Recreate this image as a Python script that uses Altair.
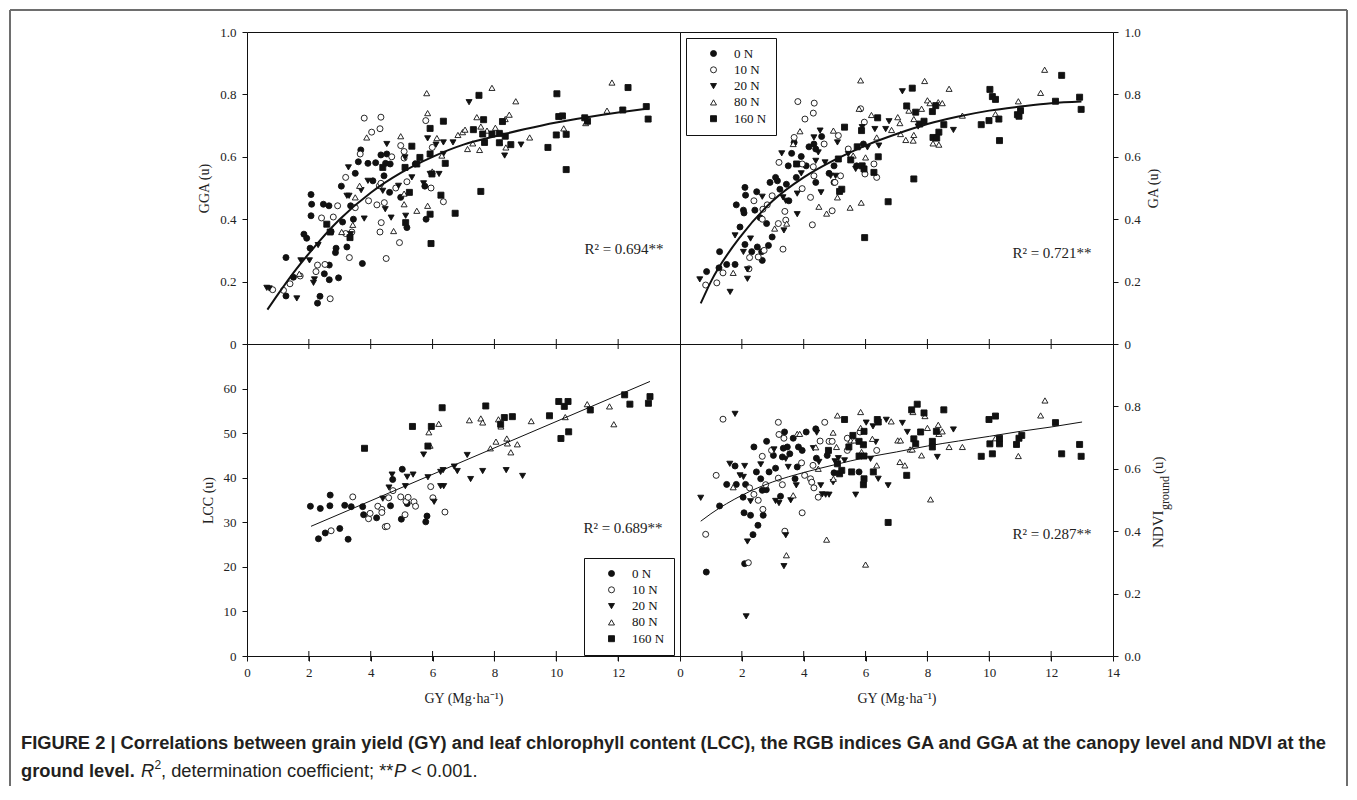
import altair as alt
import pandas as pd

GROUPS = ["0 N", "10 N", "20 N", "80 N", "160 N"]
SHAPES = ["circle", "circle", "triangle-down", "triangle-up", "square"]
FILLS = ["#111111", "#ffffff", "#111111", "#ffffff", "#111111"]
STROKES = ["#111111"] * 5
SIZES = [36, 36, 44, 44, 34]

X_TICKS = [2, 4, 6, 8, 10, 12]

# ---------------- GGA (top-left) ----------------
GGA_0N_X = [1.26,1.26,1.50,1.84,1.93,2.04,2.07,2.09,2.07,2.28,2.36,2.47,2.50,2.65,2.66,2.66,2.72,2.86,2.88,2.96,3.05,3.09,3.23,3.35,3.50,3.44,3.60,3.68,3.73,3.91,4.07,4.16,4.33,4.43,4.48,4.52,4.61,4.63,4.97,5.17,5.75,5.79,5.44]
GGA_0N_Y = [0.277,0.154,0.214,0.352,0.339,0.307,0.479,0.448,0.411,0.131,0.153,0.448,0.225,0.443,0.253,0.206,0.360,0.293,0.307,0.212,0.506,0.391,0.311,0.443,0.547,0.400,0.584,0.622,0.258,0.579,0.523,0.581,0.606,0.539,0.579,0.609,0.486,0.577,0.470,0.373,0.506,0.400,0.577]
GGA_10N_X = [0.83,1.18,1.39,1.72,2.23,2.28,2.41,2.52,2.69,2.79,2.93,3.19,3.19,3.31,3.39,3.50,3.66,3.79,3.93,4.03,4.20,4.30,4.33,4.28,4.33,4.34,4.30,4.44,4.50,4.68,4.81,4.93,4.97,5.08,5.08,5.17,5.78,5.95,5.99,6.35]
GGA_10N_Y = [0.174,0.172,0.193,0.218,0.232,0.253,0.404,0.255,0.145,0.407,0.443,0.534,0.354,0.277,0.359,0.437,0.609,0.724,0.459,0.679,0.446,0.690,0.727,0.507,0.515,0.389,0.359,0.453,0.274,0.600,0.500,0.325,0.636,0.617,0.596,0.520,0.716,0.500,0.630,0.456]
GGA_20N_X = [0.64,0.72,1.61,1.74,2.02,2.15,2.18,2.30,3.28,3.23,3.30,3.35,3.69,3.79,3.91,4.39,4.47,4.52,4.66,4.90,5.11,5.13,5.33,5.71,5.84,5.92,6.11,6.21,6.35,6.35,6.66,7.18,8.33,8.86]
GGA_20N_Y = [0.180,0.178,0.146,0.268,0.268,0.196,0.207,0.317,0.566,0.475,0.475,0.352,0.493,0.402,0.523,0.491,0.432,0.641,0.405,0.507,0.598,0.411,0.534,0.515,0.659,0.545,0.639,0.545,0.609,0.646,0.646,0.775,0.604,0.639]
GGA_80N_X = [1.69,3.06,3.42,3.50,3.64,3.87,4.74,4.97,5.08,5.08,5.49,5.81,5.84,5.84,5.99,6.14,6.30,6.82,6.97,7.05,7.13,7.30,7.43,7.52,7.56,7.76,7.92,8.03,8.17,8.35,8.37,8.48,8.69,9.14,10.24,10.95,11.64,11.80]
GGA_80N_Y = [0.225,0.359,0.382,0.470,0.507,0.662,0.362,0.666,0.448,0.482,0.427,0.804,0.740,0.443,0.553,0.660,0.604,0.670,0.679,0.687,0.625,0.643,0.727,0.622,0.697,0.684,0.821,0.693,0.646,0.721,0.630,0.735,0.778,0.662,0.691,0.708,0.748,0.838]
GGA_160N_X = [2.58,2.69,3.33,4.39,5.11,5.13,5.25,5.33,5.49,5.59,5.92,5.92,5.92,5.95,5.98,6.35,6.27,6.41,6.73,7.32,7.50,7.56,7.65,7.62,7.68,7.92,8.16,8.16,8.26,8.35,8.53,9.73,10.00,10.02,10.08,10.20,10.32,10.32,10.92,11.01,12.15,12.32,12.91,12.97]
GGA_160N_Y = [0.384,0.359,0.341,0.566,0.566,0.389,0.486,0.634,0.577,0.598,0.691,0.609,0.416,0.322,0.545,0.714,0.477,0.579,0.419,0.687,0.797,0.489,0.719,0.673,0.646,0.673,0.675,0.645,0.713,0.666,0.639,0.630,0.670,0.802,0.729,0.731,0.672,0.559,0.725,0.714,0.750,0.822,0.761,0.721]
GGA_FIT_X = [0.66,1,1.5,2,3,4,5,6,7,8,9,10,11,12,12.97]
GGA_FIT_Y = [0.110,0.159,0.228,0.290,0.400,0.485,0.550,0.600,0.639,0.665,0.689,0.710,0.727,0.742,0.755]

# ---------------- GA (top-right) ----------------
GA_0N_X = [0.86,1.26,1.28,1.51,1.78,1.82,1.94,2.05,2.07,2.10,2.12,2.10,2.32,2.42,2.48,2.50,2.59,2.64,2.66,2.80,2.86,2.91,2.98,3.09,3.15,3.23,3.44,3.50,3.52,3.61,3.69,3.76,3.92,4.08,4.17,4.33,4.39,4.39,4.58,4.82,4.98,4.98,5.71,5.93]
GA_0N_Y = [0.232,0.244,0.296,0.255,0.255,0.446,0.375,0.429,0.420,0.502,0.477,0.319,0.296,0.429,0.488,0.311,0.405,0.296,0.268,0.386,0.316,0.518,0.343,0.534,0.523,0.496,0.512,0.571,0.459,0.611,0.646,0.534,0.601,0.571,0.632,0.641,0.625,0.518,0.665,0.547,0.571,0.518,0.571,0.641]
GA_10N_X = [0.83,1.19,1.39,2.23,2.25,2.39,2.53,2.66,2.68,2.72,2.82,2.98,3.18,3.20,3.33,3.39,3.42,3.69,3.81,3.95,3.95,4.04,4.22,4.28,4.31,4.34,4.31,4.33,4.66,4.92,5.01,5.12,5.19,5.44,5.84,5.98,5.96,6.27,6.36]
GA_10N_Y = [0.189,0.196,0.228,0.241,0.277,0.459,0.279,0.400,0.432,0.300,0.446,0.475,0.386,0.582,0.304,0.425,0.397,0.662,0.777,0.577,0.498,0.721,0.470,0.382,0.740,0.772,0.568,0.539,0.641,0.427,0.518,0.668,0.539,0.625,0.754,0.545,0.711,0.577,0.534]
GA_20N_X = [0.64,1.62,1.78,2.05,2.18,2.18,2.28,2.66,3.29,3.33,3.36,3.42,3.79,3.79,3.92,4.33,4.39,4.47,4.53,4.56,4.69,4.87,5.03,5.09,5.44,5.68,5.89,6.06,6.30,6.43,6.65,6.76,7.19,7.70,8.84]
GA_20N_Y = [0.207,0.167,0.348,0.295,0.209,0.239,0.338,0.472,0.611,0.470,0.364,0.459,0.482,0.416,0.547,0.662,0.587,0.614,0.684,0.486,0.582,0.539,0.539,0.646,0.609,0.561,0.695,0.630,0.689,0.636,0.689,0.714,0.810,0.697,0.686]
GA_80N_X = [1.72,3.06,3.45,3.66,3.88,4.49,4.74,4.96,5.09,5.50,5.60,5.84,5.79,5.86,6.00,6.19,6.36,6.84,7.04,7.13,7.11,7.30,7.40,7.54,7.56,7.56,7.81,7.91,8.00,8.08,8.18,8.35,8.48,8.37,8.70,9.13,10.20,10.94,11.66,11.79]
GA_80N_Y = [0.228,0.370,0.386,0.641,0.682,0.440,0.418,0.684,0.470,0.437,0.604,0.845,0.754,0.453,0.598,0.734,0.662,0.686,0.727,0.673,0.708,0.654,0.748,0.652,0.670,0.721,0.754,0.843,0.781,0.772,0.643,0.775,0.772,0.639,0.818,0.732,0.737,0.778,0.805,0.879]
GA_160N_X = [3.77,5.12,5.23,5.16,5.32,5.52,5.73,5.87,5.89,5.95,5.97,6.27,6.39,6.41,6.73,7.33,7.51,7.56,7.62,7.75,7.89,8.16,8.18,8.27,8.37,8.30,8.53,9.74,9.99,10.02,10.10,10.20,10.31,10.33,10.91,10.96,11.01,12.14,12.34,12.92,12.97]
GA_160N_Y = [0.577,0.593,0.496,0.489,0.695,0.590,0.632,0.684,0.571,0.561,0.341,0.550,0.725,0.600,0.456,0.763,0.820,0.529,0.743,0.705,0.714,0.745,0.662,0.764,0.679,0.660,0.703,0.703,0.716,0.816,0.793,0.784,0.721,0.652,0.735,0.730,0.748,0.778,0.861,0.791,0.752]
GA_FIT_X = [0.67,1,2,3,4,5,6,7,8,9,10,11,12,12.98]
GA_FIT_Y = [0.130,0.200,0.350,0.459,0.534,0.590,0.636,0.673,0.705,0.729,0.748,0.761,0.772,0.777]

# ---------------- LCC (bottom-left) ----------------
LCC_0N_X = [2.05,2.31,2.37,2.53,2.68,2.69,3.00,3.16,3.27,3.37,3.74,3.77,4.19,4.64,4.71,4.99,5.02,5.18,5.78,5.82]
LCC_0N_Y = [33.6,26.3,33.1,27.6,33.7,36.1,28.6,33.8,26.2,33.5,33.5,31.7,31.0,33.7,39.6,30.7,41.9,34.2,30.1,31.4]
LCC_10N_X = [2.72,3.42,3.93,3.98,4.23,4.36,4.36,4.47,4.53,4.58,4.72,4.97,5.11,5.14,5.21,5.40,5.45,5.94,6.01,6.40]
LCC_10N_Y = [28.1,35.7,30.8,32.0,33.6,32.9,32.2,29.0,29.1,35.5,37.1,35.7,31.7,34.7,35.6,34.6,33.6,38.0,35.5,32.3]
LCC_20N_X = [4.39,4.59,4.69,5.12,5.18,5.37,5.71,5.85,6.05,6.26,6.34,6.26,6.36,6.70,6.80,7.12,7.23,7.62,8.38,8.91]
LCC_20N_Y = [35.3,37.8,40.7,38.1,40.2,40.7,45.2,40.1,34.6,41.3,41.7,38.1,38.1,42.5,41.5,45.1,39.7,41.5,41.7,40.4]
LCC_80N_X = [5.88,5.92,6.20,7.19,7.56,7.62,7.87,8.05,8.13,8.21,8.40,8.42,8.53,8.74,9.19,10.29,11.00,11.72,11.86]
LCC_80N_Y = [50.2,47.2,52.1,52.9,53.3,52.4,46.6,48.1,53.1,51.5,48.8,47.7,45.7,47.5,52.7,53.6,56.5,56.0,52.0]
LCC_160N_X = [3.80,5.35,5.85,5.96,6.31,7.72,8.20,8.32,8.58,9.78,10.08,10.15,10.26,10.38,10.40,11.10,12.21,12.38,12.98,13.03]
LCC_160N_Y = [46.6,51.5,47.1,51.5,55.7,56.1,52.0,53.5,53.7,53.9,57.1,48.8,56.0,57.1,50.3,55.2,58.6,56.5,56.7,58.2]
LCC_FIT_X = [2.07, 13.03]
LCC_FIT_Y = [29.1, 61.6]

# ---------------- NDVI ground (bottom-right) ----------------
ND_0N_X = [0.85,1.28,1.51,1.78,1.82,2.04,2.07,2.09,2.12,2.28,2.39,2.36,2.47,2.52,2.61,2.66,2.69,2.79,2.80,2.88,3.02,3.09,3.25,3.31,3.34,3.38,3.47,3.55,3.66,3.72,3.79,3.83,3.95,4.08,4.39,4.41,4.76,4.98,5.79]
ND_0N_Y = [0.269,0.481,0.550,0.609,0.550,0.509,0.459,0.296,0.550,0.451,0.670,0.389,0.590,0.419,0.568,0.531,0.451,0.533,0.688,0.590,0.643,0.602,0.512,0.638,0.666,0.718,0.670,0.648,0.698,0.568,0.606,0.670,0.659,0.718,0.728,0.634,0.643,0.587,0.590]
ND_10N_X = [0.83,1.17,1.39,2.21,2.25,2.39,2.53,2.66,2.68,2.77,2.96,3.18,3.20,3.18,3.31,3.36,3.39,3.93,3.95,4.03,4.22,4.26,4.30,4.33,4.47,4.53,4.68,4.82,4.92,5.41,5.41,5.82,6.36]
ND_10N_Y = [0.390,0.579,0.759,0.299,0.539,0.518,0.499,0.640,0.470,0.549,0.659,0.749,0.710,0.570,0.549,0.698,0.400,0.619,0.459,0.579,0.568,0.557,0.611,0.539,0.509,0.689,0.749,0.688,0.688,0.698,0.659,0.718,0.659]
ND_20N_X = [0.67,1.61,1.78,1.94,2.05,2.09,2.18,2.14,2.28,2.61,3.04,3.09,3.20,3.42,3.42,3.36,3.50,3.58,3.76,4.31,4.42,4.49,4.55,4.60,4.71,4.82,4.95,5.01,5.12,5.32,5.68,6.02,6.16,6.33,6.24,6.41,6.73,6.67,7.19,7.35,8.32,8.84]
ND_20N_Y = [0.507,0.616,0.776,0.579,0.574,0.609,0.367,0.127,0.496,0.614,0.662,0.497,0.490,0.387,0.632,0.288,0.606,0.499,0.547,0.666,0.716,0.622,0.547,0.518,0.517,0.517,0.557,0.624,0.634,0.627,0.517,0.748,0.632,0.686,0.736,0.568,0.547,0.757,0.747,0.718,0.638,0.726]
ND_80N_X = [1.72,3.44,3.66,3.79,3.87,4.39,4.47,4.74,4.95,4.96,5.09,5.06,5.52,5.63,5.84,5.84,5.87,6.00,6.22,6.36,6.83,7.04,7.13,7.11,7.27,7.44,7.51,7.53,7.81,7.92,8.00,8.10,8.35,8.37,8.48,8.70,9.13,10.20,10.94,11.66,11.80]
ND_80N_Y = [0.541,0.323,0.515,0.712,0.712,0.669,0.600,0.373,0.716,0.568,0.771,0.670,0.691,0.691,0.782,0.731,0.654,0.293,0.696,0.611,0.752,0.691,0.691,0.622,0.611,0.662,0.662,0.782,0.643,0.769,0.731,0.502,0.741,0.712,0.720,0.670,0.670,0.698,0.641,0.771,0.819]
ND_160N_X = [4.80,5.09,5.16,5.23,5.32,5.46,5.55,5.59,5.79,5.93,5.93,5.95,5.95,5.79,5.95,6.25,6.38,6.41,6.73,7.33,7.49,7.67,7.56,7.62,7.78,7.89,8.16,8.16,8.29,8.53,9.74,9.99,10.02,10.10,10.20,10.33,10.33,10.88,10.96,11.05,12.14,12.34,12.92,12.97]
ND_160N_Y = [0.659,0.616,0.584,0.595,0.758,0.670,0.590,0.707,0.688,0.677,0.549,0.568,0.720,0.641,0.641,0.590,0.758,0.750,0.428,0.579,0.789,0.807,0.696,0.680,0.718,0.779,0.688,0.670,0.720,0.789,0.640,0.758,0.680,0.648,0.769,0.680,0.698,0.678,0.698,0.707,0.748,0.648,0.678,0.640]
ND_FIT_X = [0.67,1,2,3,4,5,6,7,8,9,10,11,12,13.0]
ND_FIT_Y = [0.432,0.456,0.515,0.558,0.588,0.613,0.636,0.654,0.673,0.689,0.704,0.720,0.734,0.750]

SERIF = "Liberation Serif"
SANS = "Liberation Sans"
INK = "#111111"
TXT = "#222222"
W, H = 433, 312

one = pd.DataFrame({"a": [0]})


def points_frame(series):
    rows = []
    for g, (xs, ys) in zip(GROUPS, series):
        for x, y in zip(xs, ys):
            rows.append({"GY": x, "val": y, "N": g})
    return pd.DataFrame(rows)


def label(text, x, y, font=SERIF, size=15, weight="normal", style="normal",
          angle=0, align="left", color=TXT):
    kw = dict(text=text, font=font, fontSize=size, fontWeight=weight, fontStyle=style,
              align=align, baseline="middle", color=color)
    if angle:
        kw["angle"] = angle
    return alt.Chart(one).mark_text(**kw).encode(x=alt.value(x), y=alt.value(y))


def panel(series, fit_x, fit_y, ydom, yvals, label_expr, orient, ytitle,
          bottom, xvals, r2, r2_xy, legend_xy, fit_w, extra=None):
    if bottom:
        xaxis = alt.Axis(values=xvals, format="d", ticks=True, tickSize=5,
                         labelPadding=5, title="GY (Mg·ha⁻¹)", titlePadding=12,
                         grid=False, domain=False, labelFlush=False)
    else:
        xaxis = alt.Axis(labels=False, ticks=False, domain=False, grid=False, title=None)
    xenc = alt.X("GY:Q", scale=alt.Scale(domain=[0, 14], nice=False, zero=False), axis=xaxis)
    yaxis_kw = dict(values=yvals, orient=orient, tickSize=5, labelPadding=6,
                    grid=False, domain=False, labelFlush=False,
                    title=ytitle if ytitle else None, titlePadding=8)
    if label_expr:
        yaxis_kw["labelExpr"] = label_expr
    if orient == "right":
        yaxis_kw["titleAngle"] = 270
        yaxis_kw["titlePadding"] = 20
    yenc = alt.Y("val:Q", scale=alt.Scale(domain=ydom, nice=False, zero=False),
                 axis=alt.Axis(**yaxis_kw))

    if legend_xy is not None:
        leg = alt.Legend(orient="none", legendX=legend_xy[0], legendY=legend_xy[1],
                         title=None, strokeColor=INK, padding=9, symbolOffset=12,
                         labelOffset=14, rowPadding=2.3, labelFont=SERIF,
                         labelFontSize=13, labelColor=INK, fillColor="white",
                         symbolStrokeWidth=0.9)
    else:
        leg = None

    pts = alt.Chart(points_frame(series)).mark_point(
        filled=True, strokeWidth=0.9, opacity=1
    ).encode(
        x=xenc, y=yenc,
        shape=alt.Shape("N:N", scale=alt.Scale(domain=GROUPS, range=SHAPES), legend=leg),
        fill=alt.Fill("N:N", scale=alt.Scale(domain=GROUPS, range=FILLS), legend=leg),
        stroke=alt.Stroke("N:N", scale=alt.Scale(domain=GROUPS, range=STROKES), legend=leg),
        size=alt.Size("N:N", scale=alt.Scale(domain=GROUPS, range=SIZES), legend=leg),
    )
    fit = alt.Chart(pd.DataFrame({"GY": fit_x, "val": fit_y})).mark_line(
        color=INK, strokeWidth=fit_w, interpolate="monotone"
    ).encode(x=xenc, y=yenc)
    ticks = alt.Chart(pd.DataFrame({"GY": X_TICKS})).mark_rule(
        color=INK, strokeWidth=1
    ).encode(x=xenc, y=alt.value(H - 5), y2=alt.value(H + 5))
    r2t = label(r2, r2_xy[0], r2_xy[1], size=15, align="center")
    layers = [pts, fit, ticks, r2t]
    if extra:
        layers += extra
    return alt.layer(*layers).properties(width=W, height=H)


FMT0 = "datum.value == 0 ? '0' : format(datum.value, '.1f')"
FMT1 = "format(datum.value, '.1f')"

p1 = panel([(GGA_0N_X, GGA_0N_Y), (GGA_10N_X, GGA_10N_Y), (GGA_20N_X, GGA_20N_Y),
            (GGA_80N_X, GGA_80N_Y), (GGA_160N_X, GGA_160N_Y)],
           GGA_FIT_X, GGA_FIT_Y, [0, 1], [0, 0.2, 0.4, 0.6, 0.8, 1.0], FMT0, "left",
           "GGA (u)", False, None, "R² = 0.694**", (377, 217), None, 2)

p2 = panel([(GA_0N_X, GA_0N_Y), (GA_10N_X, GA_10N_Y), (GA_20N_X, GA_20N_Y),
            (GA_80N_X, GA_80N_Y), (GA_160N_X, GA_160N_Y)],
           GA_FIT_X, GA_FIT_Y, [0, 1], [0, 0.2, 0.4, 0.6, 0.8, 1.0], FMT0, "right",
           "GA (u)", False, None, "R² = 0.721**", (372, 221), (6, 6), 2)

# caption (bold first line, mixed second line) and outer frame, positioned relative to LCC panel
CAP1 = ("FIGURE 2 | Correlations between grain yield (GY) and leaf chlorophyll content (LCC), "
        "the RGB indices GA and GGA at the canopy level and NDVI at the")
CAPC = "#231f20"
caption = [
    label(CAP1, -226, 400, font=SANS, size=18.3, weight="bold", color=CAPC),
    label("ground level.", -226, 428, font=SANS, size=18.3, weight="bold", color=CAPC),
    label("R", -106, 428, font=SANS, size=18.3, style="italic", color=CAPC),
    label("2", -92.5, 421, font=SANS, size=12, color=CAPC),
    label(", determination coefficient; **", -86, 428, font=SANS, size=18.3, color=CAPC),
    label("P", 147, 428, font=SANS, size=18.3, style="italic", color=CAPC),
    label("< 0.001.", 164, 428, font=SANS, size=18.3, color=CAPC),
]
FRAME = "#6e6e6e"
frame = [
    alt.Chart(one).mark_rule(color=FRAME, strokeWidth=2).encode(
        x=alt.value(-237), x2=alt.value(1100), y=alt.value(-334)),
    alt.Chart(one).mark_rule(color=FRAME, strokeWidth=2).encode(
        x=alt.value(-237), y=alt.value(-334), y2=alt.value(442)),
    alt.Chart(one).mark_rule(color=FRAME, strokeWidth=2).encode(
        x=alt.value(1100), y=alt.value(-334), y2=alt.value(442)),
]

p3 = panel([(LCC_0N_X, LCC_0N_Y), (LCC_10N_X, LCC_10N_Y), (LCC_20N_X, LCC_20N_Y),
            (LCC_80N_X, LCC_80N_Y), (LCC_160N_X, LCC_160N_Y)],
           LCC_FIT_X, LCC_FIT_Y, [0, 70], [0, 10, 20, 30, 40, 50, 60], None, "left",
           "LCC (u)", True, [0, 2, 4, 6, 8, 10, 12], "R² = 0.689**", (376, 184), (337, 214), 1,
           extra=caption + frame)

nd_title = [
    label("NDVI", 478, 204, size=15, angle=270),
    label("ground", 485, 166, size=12, angle=270),
    label("(u)", 478, 130, size=15, angle=270),
]

p4 = panel([(ND_0N_X, ND_0N_Y), (ND_10N_X, ND_10N_Y), (ND_20N_X, ND_20N_Y),
            (ND_80N_X, ND_80N_Y), (ND_160N_X, ND_160N_Y)],
           ND_FIT_X, ND_FIT_Y, [0, 1], [0, 0.2, 0.4, 0.6, 0.8], FMT1, "right",
           None, True, [0, 2, 4, 6, 8, 10, 12, 14], "R² = 0.287**", (372, 190), None, 1,
           extra=nd_title)

chart = alt.concat(p1, p2, p3, p4, columns=2, spacing=0, bounds="flush").resolve_scale(
    shape="independent", fill="independent", size="independent", stroke="independent"
).resolve_legend(
    shape="independent", fill="independent", size="independent", stroke="independent"
).properties(padding=0, background="white").configure_view(
    stroke=INK, strokeWidth=1
).configure_axis(
    labelFont=SERIF, labelFontSize=13, labelColor=TXT, titleFont=SERIF,
    titleFontSize=14, titleFontWeight="normal", titleColor=TXT, tickColor=INK
)

chart.save("out.html", embed_options={"renderer": "svg", "actions": False})
